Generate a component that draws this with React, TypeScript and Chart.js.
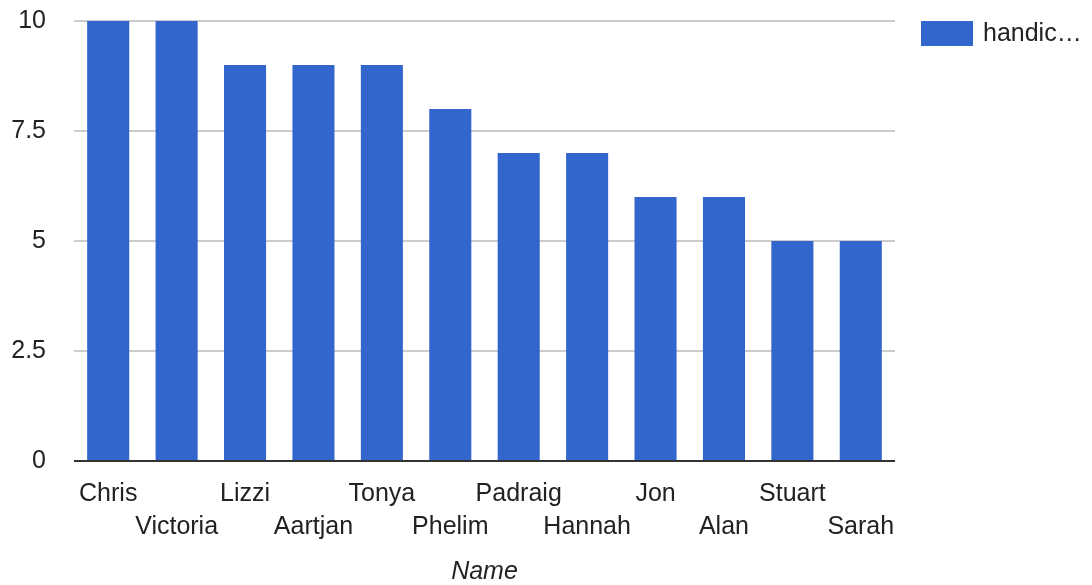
import React, { useEffect, useRef } from "react";
import { Chart, registerables } from "chart.js";

Chart.register(...registerables);

const names = ["Chris", "Victoria", "Lizzi", "Aartjan", "Tonya", "Phelim", "Padraig", "Hannah", "Jon", "Alan", "Stuart", "Sarah"];
const handicap = [10, 10, 9, 9, 9, 8, 7, 7, 6, 6, 5, 5];
const yTicks = [0, 2.5, 5, 7.5, 10];
const seriesLabel = "handic…";
const axisTitle = "Name";

const FONT = "'Liberation Sans', Arial, sans-serif";
const FONT_SIZE = 25;
const BAR_COLOR = "#3366cc";

// Draws the single-series legend to the right of the plot area.
const sideLegend = {
  id: "sideLegend",
  afterDraw(chart: any) {
    const { ctx, chartArea } = chart;
    const x = chartArea.right + 26;
    const y = chartArea.top;
    ctx.save();
    ctx.fillStyle = BAR_COLOR;
    ctx.fillRect(x, y, 52, 25);
    ctx.fillStyle = "#222";
    ctx.font = `${FONT_SIZE}px ${FONT}`;
    ctx.textBaseline = "middle";
    ctx.textAlign = "left";
    ctx.fillText(seriesLabel, x + 62, y + 13);
    ctx.restore();
  },
};

export default function App() {
  const ref = useRef<HTMLCanvasElement>(null);

  useEffect(() => {
    if (!ref.current) return;
    const chart = new Chart(ref.current, {
      type: "bar",
      data: {
        labels: names,
        datasets: [
          {
            label: seriesLabel,
            data: handicap,
            backgroundColor: BAR_COLOR,
            barPercentage: 0.615,
            categoryPercentage: 1,
          },
        ],
      },
      options: {
        responsive: false,
        animation: false,
        layout: { padding: { top: 21, right: 197, left: 0, bottom: 0 } },
        plugins: { legend: { display: false }, tooltip: { enabled: false } },
        scales: {
          x: {
            grid: { display: false, drawTicks: false },
            border: { display: false },
            ticks: {
              autoSkip: false,
              maxRotation: 0,
              minRotation: 0,
              padding: 17,
              color: "#222",
              font: { family: FONT, size: FONT_SIZE, lineHeight: 1.32 },
              callback: (_v: any, i: number) => (i % 2 === 0 ? [names[i], ""] : ["", names[i]]),
            },
            title: {
              display: true,
              text: axisTitle,
              color: "#222",
              font: { family: FONT, size: FONT_SIZE, style: "italic" },
              padding: { top: 4, bottom: -2 },
            },
            afterFit: (scale: any) => {
              scale.height = 124;
              scale.paddingLeft = 0;
              scale.paddingRight = 0;
            },
          },
          y: {
            min: 0,
            max: 10,
            afterBuildTicks: (scale: any) => {
              scale.ticks = yTicks.map((v) => ({ value: v }));
            },
            grid: {
              drawTicks: false,
              lineWidth: 2,
              color: (c: any) => (c.tick && c.tick.value === 0 ? "#333" : "#ccc"),
            },
            border: { display: false },
            ticks: {
              padding: 28,
              color: "#222",
              font: { family: FONT, size: FONT_SIZE },
              callback: (v: any) => String(v),
            },
            afterFit: (scale: any) => {
              scale.width = 74;
              scale.paddingTop = 0;
              scale.paddingBottom = 0;
            },
          },
        },
      },
      plugins: [sideLegend],
    });
    return () => chart.destroy();
  }, []);

  return (
    <div style={{ position: "fixed", left: 0, top: 0, width: 1092, height: 585, background: "#fff" }}>
      <canvas ref={ref} width={1092} height={585} />
    </div>
  );
}
